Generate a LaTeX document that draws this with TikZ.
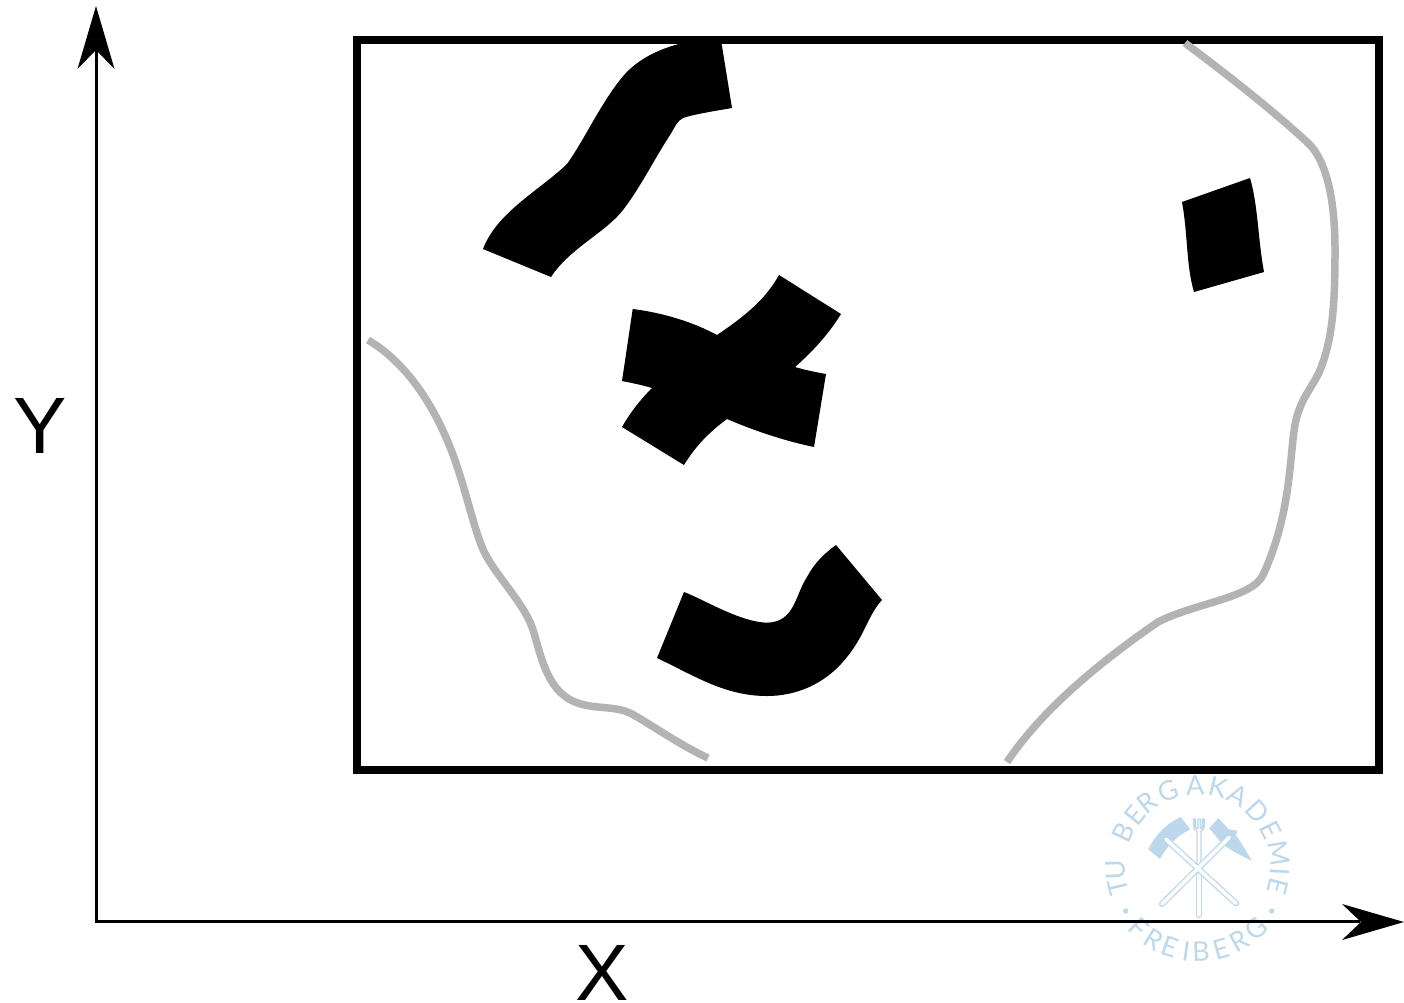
\documentclass[tikz,border=0pt]{standalone}
\usepackage{fontspec}
\setmainfont{Liberation Sans}
\newfontfamily\logofont{Lato}
\definecolor{logoblue}{HTML}{BDD8EC}
\definecolor{curvegray}{HTML}{B3B3B3}
\tikzset{
  blob/.style={fill=black,draw=none},
  grayline/.style={draw=curvegray,line width=7.5pt,line cap=butt},
  axisline/.style={draw=black,line width=3pt},
  axishead/.style={fill=black,draw=none},
  axislabel/.style={font=\fontsize{80}{80}\selectfont,inner sep=0pt,anchor=center},
  logoletter/.style={font=\logofont\fontsize{27}{27}\selectfont,text=logoblue,inner sep=0pt,anchor=center},
  handleout/.style={draw=logoblue,line width=6.2pt,line cap=round},
  handlein/.style={draw=white,line width=3.6pt,line cap=round},
}
\begin{document}
\begin{tikzpicture}[x=1pt,y=-1pt]
\useasboundingbox (0,0) rectangle (1404,1002);
\fill[white] (0,0) rectangle (1404,1002);
% logo
\begin{scope}[shift={(1080,760)},x=0.3333pt,y=-0.3333pt]
  \fill[logoblue] (205,268) .. controls (225,225) and (260,190) .. (302,171) -- (331,208) .. controls (295,225) and (262,255) .. (240,297) -- cycle;
  \fill[logoblue] (388,205) -- (415,174) -- (446,208) -- (472,212) -- (468,226) .. controls (485,250) and (500,275) .. (516,303) .. controls (480,285) and (450,270) .. (425,250) -- cycle;
  \draw[handleout] (357,345) -- (357,465);
  \draw[handlein] (357,345) -- (357,465);
  \draw[logoblue,line width=1.4pt,line join=round] (351,320) -- (351,212) .. controls (344,210) and (341,205) .. (341,198) -- (341,177) -- (346,177) -- (346,198) .. controls (346,203) and (350,205) .. (354,205) -- (354,177) -- (361,177) -- (361,205) .. controls (365,205) and (368,203) .. (368,198) -- (368,177) -- (373,177) -- (373,198) .. controls (373,205) and (370,210) .. (363,212) -- (363,320);
  \draw[handleout] (258,238) -- (468,430);
  \draw[handleout] (448,232) -- (246,432);
  \draw[handlein] (258,238) -- (468,430);
  \draw[handlein] (448,232) -- (246,432);
\end{scope}
\foreach \l/\a [count=\i] in {T/194,U/182,B/155,E/140.6,R/128,G/111,A/92,K/76,A/61,D/43,E/27,M/9.4,I/-3,E/-14}
  \node[logoletter,rotate=\a-90] (logotop\i) at ({1198+82*cos(\a)},{867-82*sin(\a)}) {\l};
\foreach \l/\a [count=\i] in {F/-134,R/-121.4,E/-109,I/-98,B/-88,E/-74,R/-61,G/-47}
  \node[logoletter,rotate=\a+90] (logobot\i) at ({1198+85*cos(\a)},{867-85*sin(\a)}) {\l};
\fill[logoblue] (1125.7,911) circle (2.6pt) (1271.7,911) circle (2.6pt);
% frame
\draw[line width=8pt] (357,40) rectangle (1378.5,770);
% axes
\draw[axisline] (96,50) -- (96,921.5) -- (1360,921.5);
\fill[axishead] (96,6) -- (114.5,69) -- (96,50) -- (77.5,69) -- cycle;
\fill[axishead] (1404,922) -- (1342,940) -- (1361,922) -- (1342,904) -- cycle;
\node[axislabel] (ylabel) at (40,426) {Y};
\node[axislabel] (xlabel) at (602,973) {X};
% blobs
\fill[blob] (721,40) -- (732,108) .. controls (715,111) and (695,114) .. (683,118) .. controls (677,121) and (675,127) .. (670,135) .. controls (655,158) and (640,188) .. (623,210) .. controls (605,233) and (570,248) .. (551,277) -- (483,249) .. controls (497,212) and (540,190) .. (567,164) .. controls (583,142) and (600,105) .. (620,80) .. controls (635,60) and (660,47) .. (692,41) -- cycle;
\fill[blob] (632.7,309) .. controls (665,313) and (695,323) .. (717,335) .. controls (745,316) and (765,300) .. (779,275) -- (841,314) .. controls (828,335) and (812,352) .. (795,367) .. controls (805,370) and (815,372) .. (826,374) -- (814,447) .. controls (785,441) and (755,431) .. (727,419) .. controls (708,433) and (695,447) .. (684,465) -- (622,427) .. controls (630,413) and (640,400) .. (652,388) .. controls (642,385) and (632,383) .. (622,381) -- cycle;
\fill[blob] (684,592) .. controls (705,600) and (740,622) .. (767,622.7) .. controls (795,622) and (795,595) .. (807,577) .. controls (815,562) and (825,553) .. (836,545) -- (882,600) .. controls (868,615) and (865,635) .. (847,657) .. controls (825,685) and (795,696) .. (767,696) .. controls (725,696) and (695,676) .. (657,658) -- cycle;
\fill[blob] (1182,202) -- (1250,178) .. controls (1258,205) and (1258,240) .. (1264,272) -- (1194,292) .. controls (1186,265) and (1188,235) .. (1182,202) -- cycle;
% gray curves
\draw[grayline] (368,340) .. controls (405,362) and (432,402) .. (450,447) .. controls (464,482) and (472,522) .. (482,547) .. controls (492,572) and (522,600) .. (532,627) .. controls (540,650) and (545,690) .. (575,702) .. controls (595,710) and (615,705) .. (632,714) .. controls (650,724) and (680,745) .. (708,758);
\draw[grayline] (1185,43) .. controls (1225,73) and (1270,108) .. (1307,142) .. controls (1325,158) and (1335,195) .. (1335,250) .. controls (1335,300) and (1333,335) .. (1322,365) .. controls (1315,385) and (1302,395) .. (1296,420) .. controls (1289,450) and (1293,510) .. (1263,575) .. controls (1252,598) and (1195,603) .. (1158,622) .. controls (1110,655) and (1045,705) .. (1007,762);
\end{tikzpicture}
\end{document}
